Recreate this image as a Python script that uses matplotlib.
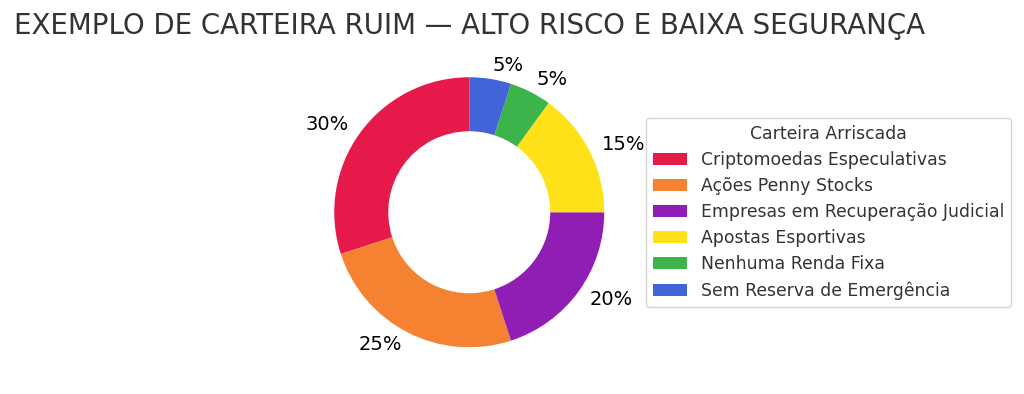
import matplotlib
matplotlib.use("Agg")
import matplotlib.pyplot as plt

categories = ["Criptomoedas Especulativas", "Ações Penny Stocks",
              "Empresas em Recuperação Judicial", "Apostas Esportivas",
              "Nenhuma Renda Fixa", "Sem Reserva de Emergência"]
values = [30, 25, 20, 15, 5, 5]
colors = ["#e6194b", "#f58231", "#911eb4", "#ffe119", "#3cb44b", "#4363d8"]
pct_labels = [f"{v}%" for v in values]

fig = plt.figure(figsize=(10.24, 3.94), dpi=100)
ax = fig.add_axes([300.5 / 1024, 13 / 394, 337.5 / 1024, 337.5 / 394])

wedges, texts = ax.pie(values, labels=pct_labels, colors=colors, startangle=90,
                       wedgeprops=dict(width=0.4),
                       textprops=dict(fontsize=14, color="black"))
ax.set_aspect("equal")

leg = ax.legend(wedges, categories, title="Carteira Arriscada",
                loc="center left", bbox_to_anchor=(1, 0.5),
                fontsize=12.4, title_fontsize=12.4, labelspacing=0.47,
                borderaxespad=0.45)
for t in leg.get_texts():
    t.set_color("#333333")
leg.get_title().set_color("#333333")

fig.text(13.5 / 1024, 1 - 34 / 394, "EXEMPLO DE CARTEIRA RUIM — ALTO RISCO E BAIXA SEGURANÇA",
         fontsize=19.9, color="#333333", ha="left", va="baseline")

fig.savefig("out.png", dpi=100)
